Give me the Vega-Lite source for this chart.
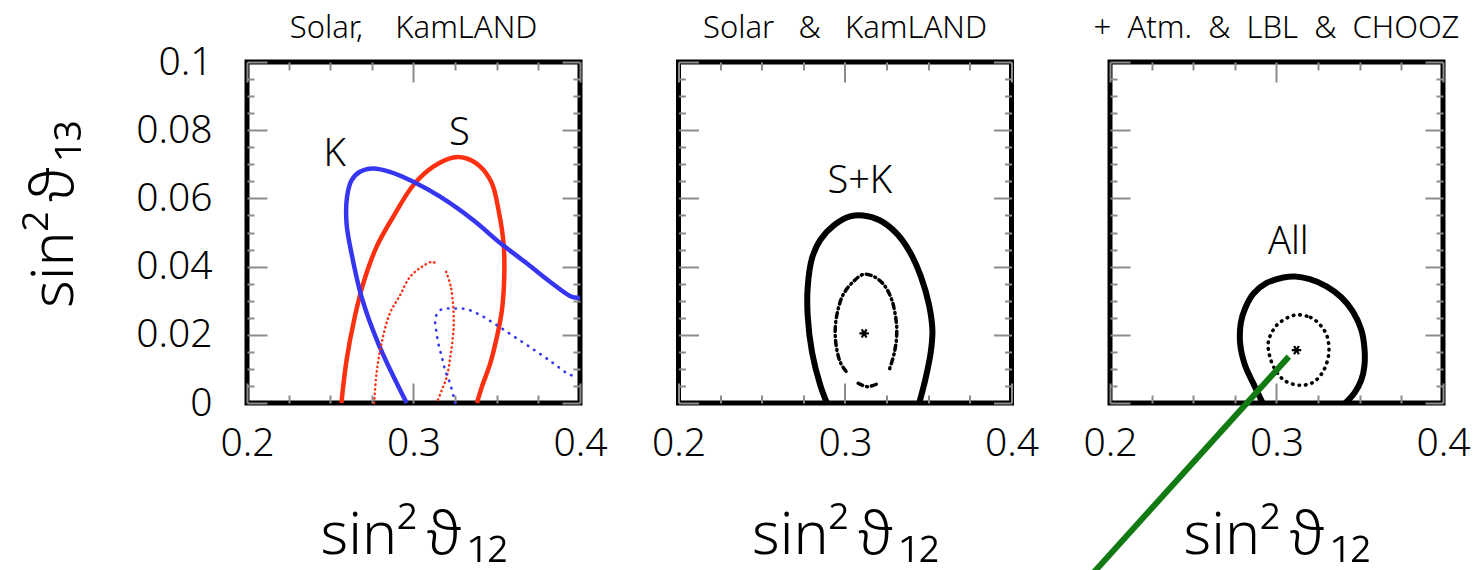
{
  "$schema": "https://vega.github.io/schema/vega-lite/v6.json",
  "background": "white",
  "padding": {"left": 23, "top": 10, "right": 5, "bottom": 0},
  "bounds": "flush",
  "spacing": 98.5,
  "config": {
    "view": {"stroke": "#000", "strokeWidth": 5, "fill": "white"},
    "font": "Noto Sans",
    "axis": {
      "labelFont": "Noto Sans", "titleFont": "Noto Sans",
      "labelColor": "#000", "titleColor": "#000",
      "labelFontWeight": 300, "titleFontWeight": 300,
      "tickColor": "#8c8c8c", "tickWidth": 2,
      "domain": false, "grid": false,
      "labelFlush": false, "labelOverlap": false, "labelBound": false
    },
    "title": {"font": "Noto Sans", "fontSize": 31, "fontWeight": 300, "color": "#000", "offset": 16, "anchor": "middle"},
    "text": {"font": "Noto Sans"}
  },
  "datasets": {
    "solar_kamland": [
      {"c": "S3", "i": 0, "x": 0.2567, "y": 0},
      {"c": "S3", "i": 1, "x": 0.2598, "y": 0.0126},
      {"c": "S3", "i": 2, "x": 0.2648, "y": 0.0254},
      {"c": "S3", "i": 3, "x": 0.2698, "y": 0.0350},
      {"c": "S3", "i": 4, "x": 0.2778, "y": 0.0458},
      {"c": "S3", "i": 5, "x": 0.2878, "y": 0.0546},
      {"c": "S3", "i": 6, "x": 0.2999, "y": 0.0639},
      {"c": "S3", "i": 7, "x": 0.3119, "y": 0.0693},
      {"c": "S3", "i": 8, "x": 0.3240, "y": 0.0720},
      {"c": "S3", "i": 9, "x": 0.3320, "y": 0.0717},
      {"c": "S3", "i": 10, "x": 0.3401, "y": 0.0693},
      {"c": "S3", "i": 11, "x": 0.3471, "y": 0.0644},
      {"c": "S3", "i": 12, "x": 0.3511, "y": 0.0565},
      {"c": "S3", "i": 13, "x": 0.3541, "y": 0.0468},
      {"c": "S3", "i": 14, "x": 0.3545, "y": 0.0370},
      {"c": "S3", "i": 15, "x": 0.3531, "y": 0.0272},
      {"c": "S3", "i": 16, "x": 0.3501, "y": 0.0194},
      {"c": "S3", "i": 17, "x": 0.3461, "y": 0.0116},
      {"c": "S3", "i": 18, "x": 0.3411, "y": 0.0048},
      {"c": "S3", "i": 19, "x": 0.3381, "y": 0},
      {"c": "K3", "i": 0, "x": 0.2959, "y": 0},
      {"c": "K3", "i": 1, "x": 0.2788, "y": 0.0175},
      {"c": "K3", "i": 2, "x": 0.2688, "y": 0.0311},
      {"c": "K3", "i": 3, "x": 0.2628, "y": 0.0438},
      {"c": "K3", "i": 4, "x": 0.2598, "y": 0.0526},
      {"c": "K3", "i": 5, "x": 0.2601, "y": 0.0605},
      {"c": "K3", "i": 6, "x": 0.2628, "y": 0.0653},
      {"c": "K3", "i": 7, "x": 0.2678, "y": 0.0678},
      {"c": "K3", "i": 8, "x": 0.2758, "y": 0.0688},
      {"c": "K3", "i": 9, "x": 0.2858, "y": 0.0678},
      {"c": "K3", "i": 10, "x": 0.2999, "y": 0.0649},
      {"c": "K3", "i": 11, "x": 0.3160, "y": 0.0605},
      {"c": "K3", "i": 12, "x": 0.3360, "y": 0.0536},
      {"c": "K3", "i": 13, "x": 0.3521, "y": 0.0469},
      {"c": "K3", "i": 14, "x": 0.3682, "y": 0.0409},
      {"c": "K3", "i": 15, "x": 0.3822, "y": 0.0355},
      {"c": "K3", "i": 16, "x": 0.3953, "y": 0.0311},
      {"c": "K3", "i": 17, "x": 0.4, "y": 0.0309},
      {"c": "S1a", "i": 0, "x": 0.2764, "y": 0},
      {"c": "S1a", "i": 1, "x": 0.2778, "y": 0.0087},
      {"c": "S1a", "i": 2, "x": 0.2808, "y": 0.0175},
      {"c": "S1a", "i": 3, "x": 0.2858, "y": 0.0263},
      {"c": "S1a", "i": 4, "x": 0.2919, "y": 0.0316},
      {"c": "S1a", "i": 5, "x": 0.2979, "y": 0.0370},
      {"c": "S1a", "i": 6, "x": 0.3049, "y": 0.0399},
      {"c": "S1a", "i": 7, "x": 0.3110, "y": 0.0414},
      {"c": "S1a", "i": 8, "x": 0.3130, "y": 0.0411},
      {"c": "S1b", "i": 0, "x": 0.3196, "y": 0.0385},
      {"c": "S1b", "i": 1, "x": 0.3224, "y": 0.0341},
      {"c": "S1b", "i": 2, "x": 0.3240, "y": 0.0272},
      {"c": "S1b", "i": 3, "x": 0.3240, "y": 0.0214},
      {"c": "S1b", "i": 4, "x": 0.3224, "y": 0.0145},
      {"c": "S1b", "i": 5, "x": 0.3200, "y": 0.0077},
      {"c": "S1b", "i": 6, "x": 0.3170, "y": 0.0038},
      {"c": "S1b", "i": 7, "x": 0.3140, "y": 0},
      {"c": "K1", "i": 0, "x": 0.3250, "y": 0},
      {"c": "K1", "i": 1, "x": 0.3220, "y": 0.0057},
      {"c": "K1", "i": 2, "x": 0.3190, "y": 0.0096},
      {"c": "K1", "i": 3, "x": 0.3170, "y": 0.0136},
      {"c": "K1", "i": 4, "x": 0.3149, "y": 0.0175},
      {"c": "K1", "i": 5, "x": 0.3136, "y": 0.0214},
      {"c": "K1", "i": 6, "x": 0.3130, "y": 0.0243},
      {"c": "K1", "i": 7, "x": 0.3143, "y": 0.0263},
      {"c": "K1", "i": 8, "x": 0.3170, "y": 0.0275},
      {"c": "K1", "i": 9, "x": 0.3210, "y": 0.0277},
      {"c": "K1", "i": 10, "x": 0.3260, "y": 0.0277},
      {"c": "K1", "i": 11, "x": 0.3320, "y": 0.0275},
      {"c": "K1", "i": 12, "x": 0.3401, "y": 0.0258},
      {"c": "K1", "i": 13, "x": 0.3501, "y": 0.0228},
      {"c": "K1", "i": 14, "x": 0.3622, "y": 0.0189},
      {"c": "K1", "i": 15, "x": 0.3742, "y": 0.0150},
      {"c": "K1", "i": 16, "x": 0.3842, "y": 0.0116},
      {"c": "K1", "i": 17, "x": 0.3923, "y": 0.0087},
      {"c": "K1", "i": 18, "x": 0.3973, "y": 0.0077}
    ],
    "combined": [
      {"c": "SK3", "i": 0, "x": 0.2891, "y": 0},
      {"c": "SK3", "i": 1, "x": 0.2851, "y": 0.0053},
      {"c": "SK3", "i": 2, "x": 0.2802, "y": 0.0149},
      {"c": "SK3", "i": 3, "x": 0.2776, "y": 0.0255},
      {"c": "SK3", "i": 4, "x": 0.2776, "y": 0.0340},
      {"c": "SK3", "i": 5, "x": 0.2802, "y": 0.0425},
      {"c": "SK3", "i": 6, "x": 0.2851, "y": 0.0478},
      {"c": "SK3", "i": 7, "x": 0.2931, "y": 0.0520},
      {"c": "SK3", "i": 8, "x": 0.3030, "y": 0.0547},
      {"c": "SK3", "i": 9, "x": 0.3109, "y": 0.0550},
      {"c": "SK3", "i": 10, "x": 0.3208, "y": 0.0536},
      {"c": "SK3", "i": 11, "x": 0.3307, "y": 0.0499},
      {"c": "SK3", "i": 12, "x": 0.3386, "y": 0.0446},
      {"c": "SK3", "i": 13, "x": 0.3455, "y": 0.0372},
      {"c": "SK3", "i": 14, "x": 0.3505, "y": 0.0287},
      {"c": "SK3", "i": 15, "x": 0.3525, "y": 0.0212},
      {"c": "SK3", "i": 16, "x": 0.3515, "y": 0.0149},
      {"c": "SK3", "i": 17, "x": 0.3485, "y": 0.0074},
      {"c": "SK3", "i": 18, "x": 0.3446, "y": 0},
      {"c": "SK1", "i": 0, "x": 0.3006, "y": 0.0093},
      {"c": "SK1", "i": 1, "x": 0.2974, "y": 0.0117},
      {"c": "SK1", "i": 2, "x": 0.2950, "y": 0.0159},
      {"c": "SK1", "i": 3, "x": 0.2941, "y": 0.0212},
      {"c": "SK1", "i": 4, "x": 0.2954, "y": 0.0265},
      {"c": "SK1", "i": 5, "x": 0.2990, "y": 0.0319},
      {"c": "SK1", "i": 6, "x": 0.3050, "y": 0.0356},
      {"c": "SK1", "i": 7, "x": 0.3109, "y": 0.0377},
      {"c": "SK1", "i": 8, "x": 0.3168, "y": 0.0372},
      {"c": "SK1", "i": 9, "x": 0.3228, "y": 0.0350},
      {"c": "SK1", "i": 10, "x": 0.3277, "y": 0.0308},
      {"c": "SK1", "i": 11, "x": 0.3303, "y": 0.0255},
      {"c": "SK1", "i": 12, "x": 0.3311, "y": 0.0207},
      {"c": "SK1", "i": 13, "x": 0.3297, "y": 0.0149},
      {"c": "SK1", "i": 14, "x": 0.3263, "y": 0.0093},
      {"c": "SK1b", "i": 0, "x": 0.3079, "y": 0.0058},
      {"c": "SK1b", "i": 1, "x": 0.3133, "y": 0.0048},
      {"c": "SK1b", "i": 2, "x": 0.3188, "y": 0.0055}
    ],
    "global": [
      {"c": "A3", "i": 0, "x": 0.2917, "y": 0},
      {"c": "A3", "i": 1, "x": 0.2862, "y": 0.0056},
      {"c": "A3", "i": 2, "x": 0.2812, "y": 0.0109},
      {"c": "A3", "i": 3, "x": 0.2782, "y": 0.0173},
      {"c": "A3", "i": 4, "x": 0.2786, "y": 0.0236},
      {"c": "A3", "i": 5, "x": 0.2812, "y": 0.0278},
      {"c": "A3", "i": 6, "x": 0.2862, "y": 0.0321},
      {"c": "A3", "i": 7, "x": 0.2941, "y": 0.0352},
      {"c": "A3", "i": 8, "x": 0.3041, "y": 0.0368},
      {"c": "A3", "i": 9, "x": 0.3111, "y": 0.0371},
      {"c": "A3", "i": 10, "x": 0.3200, "y": 0.0363},
      {"c": "A3", "i": 11, "x": 0.3300, "y": 0.0342},
      {"c": "A3", "i": 12, "x": 0.3389, "y": 0.0310},
      {"c": "A3", "i": 13, "x": 0.3459, "y": 0.0268},
      {"c": "A3", "i": 14, "x": 0.3509, "y": 0.0215},
      {"c": "A3", "i": 15, "x": 0.3528, "y": 0.0162},
      {"c": "A3", "i": 16, "x": 0.3528, "y": 0.0109},
      {"c": "A3", "i": 17, "x": 0.3509, "y": 0.0067},
      {"c": "A3", "i": 18, "x": 0.3469, "y": 0.0030},
      {"c": "A3", "i": 19, "x": 0.3414, "y": 0},
      {"c": "A1", "i": 0, "x": 0.3114, "y": 0.0258},
      {"c": "A1", "i": 1, "x": 0.3204, "y": 0.0251},
      {"c": "A1", "i": 2, "x": 0.3264, "y": 0.0228},
      {"c": "A1", "i": 3, "x": 0.3305, "y": 0.0194},
      {"c": "A1", "i": 4, "x": 0.3314, "y": 0.0145},
      {"c": "A1", "i": 5, "x": 0.3284, "y": 0.0096},
      {"c": "A1", "i": 6, "x": 0.3224, "y": 0.0062},
      {"c": "A1", "i": 7, "x": 0.3144, "y": 0.0052},
      {"c": "A1", "i": 8, "x": 0.3054, "y": 0.0064},
      {"c": "A1", "i": 9, "x": 0.2994, "y": 0.0096},
      {"c": "A1", "i": 10, "x": 0.2960, "y": 0.0136},
      {"c": "A1", "i": 11, "x": 0.2950, "y": 0.0175},
      {"c": "A1", "i": 12, "x": 0.2974, "y": 0.0209},
      {"c": "A1", "i": 13, "x": 0.3024, "y": 0.0238},
      {"c": "pointer", "i": 0, "x": 0.3074, "y": 0.0136},
      {"c": "pointer", "i": 1, "x": 0.1887, "y": -0.0505}
    ],
    "best_fit": [
      {"p": 2, "x": 0.3115, "y": 0.0204},
      {"p": 3, "x": 0.3120, "y": 0.0155}
    ],
    "tags": [
      {"p": 1, "x": 0.2527, "y": 0.0728, "t": "K"},
      {"p": 1, "x": 0.3275, "y": 0.0790, "t": "S"},
      {"p": 2, "x": 0.3089, "y": 0.0648, "t": "S+K"},
      {"p": 3, "x": 0.3071, "y": 0.0469, "t": "All"}
    ]
  },
  "hconcat": [
    {
      "width": 333, "height": 341,
      "title": {"text": "Solar,\u00a0\u00a0\u00a0\u00a0KamLAND", "offset": -2},
      "layer": [
        {
          "data": {"name": "solar_kamland"},
          "transform": [{"filter": "datum.c === 'S3'"}],
          "mark": {"type": "line", "color": "#ff3010", "strokeWidth": 4.5, "interpolate": "catmull-rom"},
          "encoding": {
            "x": {"field": "x", "type": "quantitative", "scale": {"domain": [0.2, 0.4], "nice": false, "zero": false},
              "axis": {"orient": "bottom", "values": [0.2, 0.225, 0.25, 0.275, 0.3, 0.325, 0.35, 0.375, 0.4],
                "tickSize": {"condition": {"test": "abs(datum.value*10-round(datum.value*10))<1e-6", "value": -20}, "value": -8},
                "labelExpr": "abs(datum.value*10-round(datum.value*10))<1e-6 ? format(datum.value, '.1f') : ''",
                "labelPadding": 41, "labelFontSize": 39,
                "title": "sin²\u2009ϑ\u200a₁₂", "titleFontSize": 59, "titlePadding": 31}},
            "y": {"field": "y", "type": "quantitative", "scale": {"domain": [0, 0.1], "nice": false, "zero": false},
              "axis": {"orient": "left", "values": [0, 0.005, 0.01, 0.015, 0.02, 0.025, 0.03, 0.035, 0.04, 0.045, 0.05, 0.055, 0.06, 0.065, 0.07, 0.075, 0.08, 0.085, 0.09, 0.095, 0.1],
                "tickSize": {"condition": {"test": "abs(datum.value*50-round(datum.value*50))<1e-6", "value": -20}, "value": -7},
                "labelExpr": "abs(datum.value*50-round(datum.value*50))<1e-6 ? format(datum.value, '~g') : ''",
                "labelPadding": 55, "labelFontSize": 39,
                "title": "sin²\u2009ϑ\u200a₁₃", "titleFontSize": 59, "titlePadding": 51, "titleY": 152}},
            "order": {"field": "i", "type": "quantitative"}
          }
        },
        {
          "data": {"name": "solar_kamland"},
          "transform": [{"filter": "datum.c === 'K3'"}],
          "mark": {"type": "line", "color": "#3636f2", "strokeWidth": 4.5, "interpolate": "catmull-rom"},
          "encoding": {
            "x": {"field": "x", "type": "quantitative", "scale": {"domain": [0.2, 0.4], "nice": false, "zero": false}, "axis": null},
            "y": {"field": "y", "type": "quantitative", "scale": {"domain": [0, 0.1], "nice": false, "zero": false}, "axis": null},
            "order": {"field": "i", "type": "quantitative"}
          }
        },
        {
          "data": {"name": "solar_kamland"},
          "transform": [{"filter": "datum.c === 'S1a' || datum.c === 'S1b'"}],
          "mark": {"type": "line", "color": "#ff3010", "strokeWidth": 2.4, "strokeDash": [0.5, 4], "strokeCap": "round", "interpolate": "catmull-rom"},
          "encoding": {
            "x": {"field": "x", "type": "quantitative", "scale": {"domain": [0.2, 0.4], "nice": false, "zero": false}, "axis": null},
            "y": {"field": "y", "type": "quantitative", "scale": {"domain": [0, 0.1], "nice": false, "zero": false}, "axis": null},
            "detail": {"field": "c"},
            "order": {"field": "i", "type": "quantitative"}
          }
        },
        {
          "data": {"name": "solar_kamland"},
          "transform": [{"filter": "datum.c === 'K1'"}],
          "mark": {"type": "line", "color": "#3636f2", "strokeWidth": 2.6, "strokeDash": [0.5, 7], "strokeCap": "round", "interpolate": "catmull-rom"},
          "encoding": {
            "x": {"field": "x", "type": "quantitative", "scale": {"domain": [0.2, 0.4], "nice": false, "zero": false}, "axis": null},
            "y": {"field": "y", "type": "quantitative", "scale": {"domain": [0, 0.1], "nice": false, "zero": false}, "axis": null},
            "order": {"field": "i", "type": "quantitative"}
          }
        },
        {
          "data": {"name": "tags"},
          "transform": [{"filter": "datum.p === 1"}],
          "mark": {"type": "text", "fontSize": 38, "fontWeight": 300, "color": "#000", "baseline": "middle", "align": "center"},
          "encoding": {
            "x": {"field": "x", "type": "quantitative", "scale": {"domain": [0.2, 0.4], "nice": false, "zero": false},
              "axis": {"orient": "top", "values": [0.2, 0.225, 0.25, 0.275, 0.3, 0.325, 0.35, 0.375, 0.4],
                "tickSize": {"condition": {"test": "abs(datum.value*10-round(datum.value*10))<1e-6", "value": -20}, "value": -8},
                "labels": false, "title": null}},
            "y": {"field": "y", "type": "quantitative", "scale": {"domain": [0, 0.1], "nice": false, "zero": false},
              "axis": {"orient": "right", "values": [0, 0.005, 0.01, 0.015, 0.02, 0.025, 0.03, 0.035, 0.04, 0.045, 0.05, 0.055, 0.06, 0.065, 0.07, 0.075, 0.08, 0.085, 0.09, 0.095, 0.1],
                "tickSize": {"condition": {"test": "abs(datum.value*50-round(datum.value*50))<1e-6", "value": -18}, "value": -7},
                "labels": false, "title": null}},
            "text": {"field": "t"}
          }
        }
      ]
    },
    {
      "width": 333, "height": 341,
      "title": "Solar\u00a0\u00a0\u00a0&\u00a0\u00a0\u00a0KamLAND",
      "layer": [
        {
          "data": {"name": "combined"},
          "transform": [{"filter": "datum.c === 'SK3'"}],
          "mark": {"type": "line", "color": "#000", "strokeWidth": 6, "interpolate": "catmull-rom"},
          "encoding": {
            "x": {"field": "x", "type": "quantitative", "scale": {"domain": [0.2, 0.4], "nice": false, "zero": false},
              "axis": {"orient": "bottom", "values": [0.2, 0.225, 0.25, 0.275, 0.3, 0.325, 0.35, 0.375, 0.4],
                "tickSize": {"condition": {"test": "abs(datum.value*10-round(datum.value*10))<1e-6", "value": -20}, "value": -8},
                "labelExpr": "abs(datum.value*10-round(datum.value*10))<1e-6 ? format(datum.value, '.1f') : ''",
                "labelPadding": 41, "labelFontSize": 39,
                "title": "sin²\u2009ϑ\u200a₁₂", "titleFontSize": 59, "titlePadding": 31}},
            "y": {"field": "y", "type": "quantitative", "scale": {"domain": [0, 0.1], "nice": false, "zero": false},
              "axis": {"orient": "left", "values": [0, 0.005, 0.01, 0.015, 0.02, 0.025, 0.03, 0.035, 0.04, 0.045, 0.05, 0.055, 0.06, 0.065, 0.07, 0.075, 0.08, 0.085, 0.09, 0.095, 0.1],
                "tickSize": {"condition": {"test": "abs(datum.value*50-round(datum.value*50))<1e-6", "value": -20}, "value": -7},
                "labels": false, "title": null}},
            "order": {"field": "i", "type": "quantitative"}
          }
        },
        {
          "data": {"name": "combined"},
          "transform": [{"filter": "datum.c === 'SK1' || datum.c === 'SK1b'"}],
          "mark": {"type": "line", "color": "#000", "strokeWidth": 3.5, "strokeDash": [5, 4, 1, 4], "strokeCap": "round", "interpolate": "catmull-rom"},
          "encoding": {
            "x": {"field": "x", "type": "quantitative", "scale": {"domain": [0.2, 0.4], "nice": false, "zero": false}, "axis": null},
            "y": {"field": "y", "type": "quantitative", "scale": {"domain": [0, 0.1], "nice": false, "zero": false}, "axis": null},
            "detail": {"field": "c"},
            "order": {"field": "i", "type": "quantitative"}
          }
        },
        {
          "data": {"name": "best_fit"},
          "transform": [{"filter": "datum.p === 2"}],
          "mark": {"type": "point", "shape": "M-1,0L1,0M-0.5,-0.866L0.5,0.866M-0.5,0.866L0.5,-0.866", "filled": false, "stroke": "#000", "strokeWidth": 2.2, "size": 90, "opacity": 1},
          "encoding": {
            "x": {"field": "x", "type": "quantitative", "scale": {"domain": [0.2, 0.4], "nice": false, "zero": false}, "axis": null},
            "y": {"field": "y", "type": "quantitative", "scale": {"domain": [0, 0.1], "nice": false, "zero": false}, "axis": null}
          }
        },
        {
          "data": {"name": "tags"},
          "transform": [{"filter": "datum.p === 2"}],
          "mark": {"type": "text", "fontSize": 38, "fontWeight": 300, "color": "#000", "baseline": "middle", "align": "center"},
          "encoding": {
            "x": {"field": "x", "type": "quantitative", "scale": {"domain": [0.2, 0.4], "nice": false, "zero": false},
              "axis": {"orient": "top", "values": [0.2, 0.225, 0.25, 0.275, 0.3, 0.325, 0.35, 0.375, 0.4],
                "tickSize": {"condition": {"test": "abs(datum.value*10-round(datum.value*10))<1e-6", "value": -20}, "value": -8},
                "labels": false, "title": null}},
            "y": {"field": "y", "type": "quantitative", "scale": {"domain": [0, 0.1], "nice": false, "zero": false},
              "axis": {"orient": "right", "values": [0, 0.005, 0.01, 0.015, 0.02, 0.025, 0.03, 0.035, 0.04, 0.045, 0.05, 0.055, 0.06, 0.065, 0.07, 0.075, 0.08, 0.085, 0.09, 0.095, 0.1],
                "tickSize": {"condition": {"test": "abs(datum.value*50-round(datum.value*50))<1e-6", "value": -18}, "value": -7},
                "labels": false, "title": null}},
            "text": {"field": "t"}
          }
        }
      ]
    },
    {
      "width": 333, "height": 341,
      "title": "+\u00a0\u00a0Atm.\u00a0\u00a0&\u00a0\u00a0LBL\u00a0\u00a0&\u00a0\u00a0CHOOZ",
      "layer": [
        {
          "data": {"name": "global"},
          "transform": [{"filter": "datum.c === 'A3'"}],
          "mark": {"type": "line", "color": "#000", "strokeWidth": 6, "interpolate": "catmull-rom"},
          "encoding": {
            "x": {"field": "x", "type": "quantitative", "scale": {"domain": [0.2, 0.4], "nice": false, "zero": false},
              "axis": {"orient": "bottom", "values": [0.2, 0.225, 0.25, 0.275, 0.3, 0.325, 0.35, 0.375, 0.4],
                "tickSize": {"condition": {"test": "abs(datum.value*10-round(datum.value*10))<1e-6", "value": -20}, "value": -8},
                "labelExpr": "abs(datum.value*10-round(datum.value*10))<1e-6 ? format(datum.value, '.1f') : ''",
                "labelPadding": 41, "labelFontSize": 39,
                "title": "sin²\u2009ϑ\u200a₁₂", "titleFontSize": 59, "titlePadding": 31}},
            "y": {"field": "y", "type": "quantitative", "scale": {"domain": [0, 0.1], "nice": false, "zero": false},
              "axis": {"orient": "left", "values": [0, 0.005, 0.01, 0.015, 0.02, 0.025, 0.03, 0.035, 0.04, 0.045, 0.05, 0.055, 0.06, 0.065, 0.07, 0.075, 0.08, 0.085, 0.09, 0.095, 0.1],
                "tickSize": {"condition": {"test": "abs(datum.value*50-round(datum.value*50))<1e-6", "value": -20}, "value": -7},
                "labels": false, "title": null}},
            "order": {"field": "i", "type": "quantitative"}
          }
        },
        {
          "data": {"name": "global"},
          "transform": [{"filter": "datum.c === 'A1'"}],
          "mark": {"type": "line", "color": "#000", "strokeWidth": 3.6, "strokeDash": [0.5, 6], "strokeCap": "round", "interpolate": "cardinal-closed"},
          "encoding": {
            "x": {"field": "x", "type": "quantitative", "scale": {"domain": [0.2, 0.4], "nice": false, "zero": false}, "axis": null},
            "y": {"field": "y", "type": "quantitative", "scale": {"domain": [0, 0.1], "nice": false, "zero": false}, "axis": null},
            "order": {"field": "i", "type": "quantitative"}
          }
        },
        {
          "data": {"name": "best_fit"},
          "transform": [{"filter": "datum.p === 3"}],
          "mark": {"type": "point", "shape": "M-1,0L1,0M-0.5,-0.866L0.5,0.866M-0.5,0.866L0.5,-0.866", "filled": false, "stroke": "#000", "strokeWidth": 2.2, "size": 90, "opacity": 1},
          "encoding": {
            "x": {"field": "x", "type": "quantitative", "scale": {"domain": [0.2, 0.4], "nice": false, "zero": false}, "axis": null},
            "y": {"field": "y", "type": "quantitative", "scale": {"domain": [0, 0.1], "nice": false, "zero": false}, "axis": null}
          }
        },
        {
          "data": {"name": "tags"},
          "transform": [{"filter": "datum.p === 3"}],
          "mark": {"type": "text", "fontSize": 38, "fontWeight": 300, "color": "#000", "baseline": "middle", "align": "center"},
          "encoding": {
            "x": {"field": "x", "type": "quantitative", "scale": {"domain": [0.2, 0.4], "nice": false, "zero": false},
              "axis": {"orient": "top", "values": [0.2, 0.225, 0.25, 0.275, 0.3, 0.325, 0.35, 0.375, 0.4],
                "tickSize": {"condition": {"test": "abs(datum.value*10-round(datum.value*10))<1e-6", "value": -20}, "value": -8},
                "labels": false, "title": null}},
            "y": {"field": "y", "type": "quantitative", "scale": {"domain": [0, 0.1], "nice": false, "zero": false},
              "axis": {"orient": "right", "values": [0, 0.005, 0.01, 0.015, 0.02, 0.025, 0.03, 0.035, 0.04, 0.045, 0.05, 0.055, 0.06, 0.065, 0.07, 0.075, 0.08, 0.085, 0.09, 0.095, 0.1],
                "tickSize": {"condition": {"test": "abs(datum.value*50-round(datum.value*50))<1e-6", "value": -18}, "value": -7},
                "labels": false, "title": null}},
            "text": {"field": "t"}
          }
        },
        {
          "data": {"name": "global"},
          "transform": [{"filter": "datum.c === 'pointer'"}],
          "mark": {"type": "line", "color": "#127a12", "strokeWidth": 6, "clip": false},
          "encoding": {
            "x": {"field": "x", "type": "quantitative", "scale": {"domain": [0.2, 0.4], "nice": false, "zero": false}, "axis": null},
            "y": {"field": "y", "type": "quantitative", "scale": {"domain": [0, 0.1], "nice": false, "zero": false}, "axis": null},
            "order": {"field": "i", "type": "quantitative"}
          }
        }
      ]
    }
  ]
}
